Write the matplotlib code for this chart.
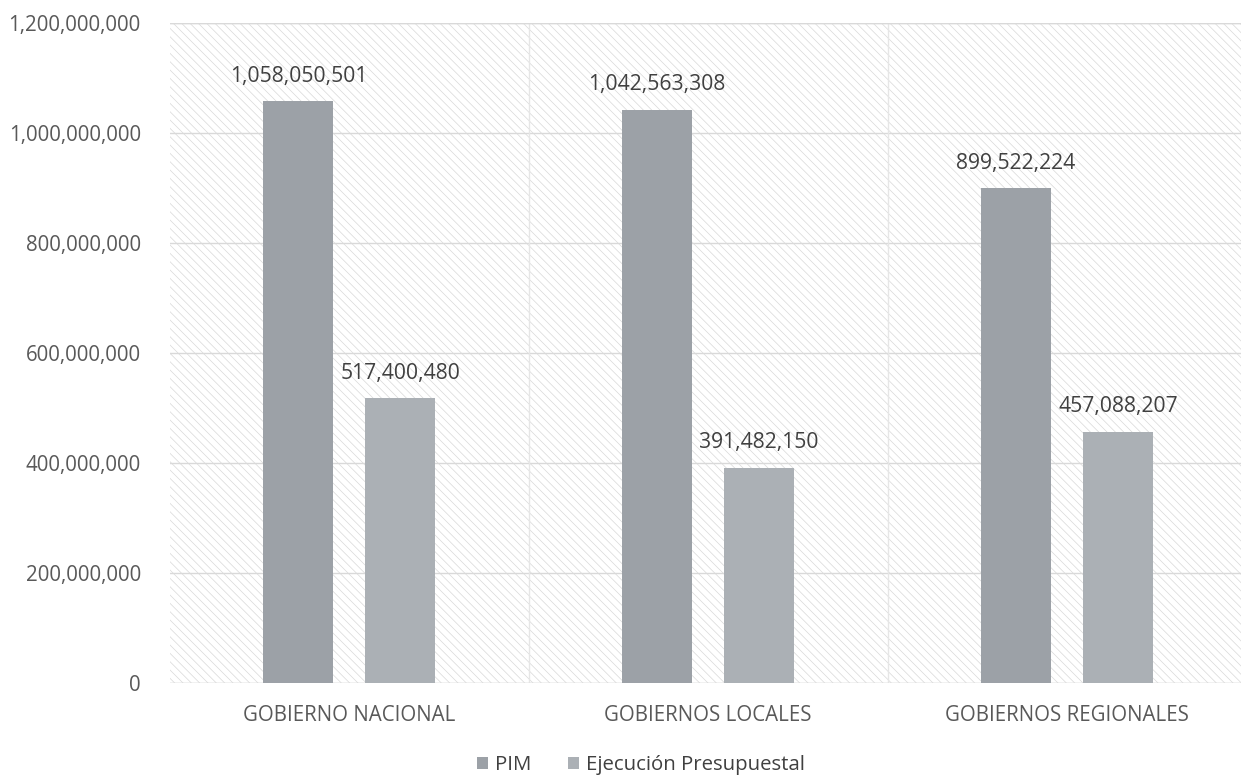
import matplotlib.pyplot as plt
import numpy as np
from matplotlib.patches import Rectangle
from matplotlib.ticker import FuncFormatter

plt.rcParams['font.family'] = ['Open Sans', 'DejaVu Sans']
plt.rcParams['hatch.linewidth'] = 0.5
plt.rcParams['hatch.color'] = '#d8d8d8'

# datos
categorias = ['GOBIERNO NACIONAL', 'GOBIERNOS LOCALES', 'GOBIERNOS REGIONALES']
pim = [1058050501, 1042563308, 899522224]
ejecucion = [517400480, 391482150, 457088207]
series = ['PIM', 'Ejecución Presupuestal']

fig = plt.figure(figsize=(12.41, 7.76), dpi=100)
ax = fig.add_axes([170 / 1241, 1 - 683 / 776, 1080 / 1241, 660 / 776])

# fondo rayado
ax.add_patch(Rectangle((0, 0), 1, 1, transform=ax.transAxes, facecolor='white',
                       edgecolor='#d8d8d8', hatch='\\\\\\\\', lw=0, zorder=0))

x = np.arange(len(categorias))
w = 0.195
off = 0.142
b1 = ax.bar(x - off, pim, w, color='#9ca1a7', label=series[0], zorder=3)
b2 = ax.bar(x + off, ejecucion, w, color='#abb0b5', label=series[1], zorder=3)

for bars in (b1, b2):
    for r in bars:
        ax.text(r.get_x() + r.get_width() / 2, r.get_height() + 2.6e7,
                f'{int(r.get_height()):,}', ha='center', va='bottom',
                fontsize=15.2, color='#404040', zorder=4)

ax.set_xlim(-0.5, 2.51)
ax.set_ylim(0, 1.2e9)
ax.set_yticks(np.arange(0, 1.2e9 + 1, 2e8))
ax.yaxis.set_major_formatter(FuncFormatter(lambda v, p: f'{int(v):,}'))
ax.set_xticks(x)
ax.set_xticklabels(categorias)
ax.tick_params(axis='both', length=0, labelsize=14.8, colors='#595959')
ax.tick_params(axis='x', pad=16)
ax.tick_params(axis='y', pad=21)

ax.grid(axis='y', color='#d9d9d9', lw=1, zorder=1)
for s in [0.5, 1.5]:
    ax.axvline(s, color='#e6e6e6', lw=1, zorder=1)
ax.set_axisbelow(True)
for sp in ax.spines.values():
    sp.set_visible(False)
ax.axhline(0, color='#d9d9d9', lw=1, zorder=2)
ax.axhline(1.2e9, color='#d9d9d9', lw=1, zorder=2)

fig.legend(loc='center', bbox_to_anchor=(641 / 1241, 1 - 765 / 776), ncol=2, frameon=False,
           fontsize=14.7, handlelength=0.55, handleheight=0.55, columnspacing=1.8,
           handletextpad=0.35, labelcolor='#404040', borderpad=0)

fig.savefig('out.png', dpi=100)
